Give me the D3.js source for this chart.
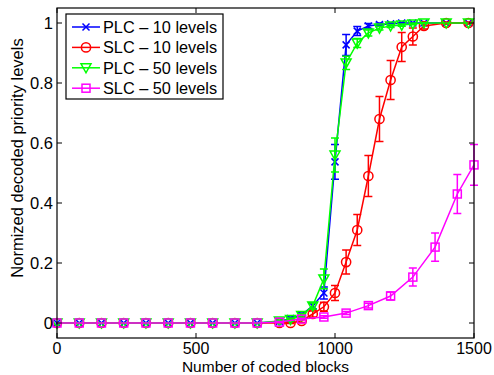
<!DOCTYPE html>
<html><head><meta charset="utf-8">
<script src="https://cdn.jsdelivr.net/npm/d3@7"></script>
<style>body{margin:0;background:#fff;} svg{display:block;font-family:"Liberation Sans",Arial,sans-serif;}</style>
</head><body>
<script>
// ---- data ----
const xMain = [0,80,160,240,320,400,480,560,640,720,800,840,880,920,960,1000,1040,1080,1120,1160,1200,1240,1280,1320,1400,1480];
const xSlc50 = [0,80,160,240,320,400,480,560,640,720,800,880,960,1040,1120,1200,1280,1360,1440,1500];
const plc10 = [0,0,0,0,0,0,0,0,0,0,0.005,0.015,0.027,0.057,0.1,0.537,0.927,0.973,0.99,0.995,0.997,1,1,1,1,1];
const plc10Err = [0,0,0,0,0,0,0,0,0,0,0.003,0.005,0.006,0.01,0.02,0.058,0.035,0.015,0.008,0.005,0.003,0.002,0.002,0,0,0];
const slc10 = [0,0,0,0,0,0,0,0,0,0,0,0,0.007,0.03,0.054,0.1,0.203,0.31,0.49,0.68,0.81,0.92,0.955,0.99,1,1];
const slc10Err = [0,0,0,0,0,0,0,0,0,0,0,0.002,0.005,0.01,0.015,0.025,0.04,0.052,0.068,0.075,0.065,0.048,0.028,0.01,0.003,0.003];
const plc50 = [0,0,0,0,0,0,0,0,0,0,0.007,0.012,0.025,0.057,0.147,0.56,0.867,0.933,0.967,0.983,0.99,0.993,0.997,1,1,1];
const plc50Err = [0,0,0,0,0,0,0,0,0,0,0.003,0.005,0.006,0.01,0.033,0.057,0.022,0.015,0.01,0.006,0.005,0.004,0.003,0.002,0,0];
const slc50 = [0,0,0,0,0,0,0,0,0,0,0.003,0.013,0.02,0.033,0.058,0.09,0.153,0.253,0.43,0.527];
const slc50Err = [0,0,0,0,0,0,0,0,0,0,0.002,0.003,0.004,0.005,0.008,0.013,0.03,0.047,0.065,0.068];
const xTicks = [0,500,1000,1500];
const yTicks = [0,0.2,0.4,0.6,0.8,1];
const yTickLabels = ["0","0.2","0.4","0.6","0.8","1"];
const seriesNames = ["PLC \u2013 10 levels","SLC \u2013 10 levels","PLC \u2013 50 levels","SLC \u2013 50 levels"];
const seriesColors = ["#0000ff","#ff0000","#00ff00","#ff00ff"];
const seriesMarkers = ["x","circle","triangle","square"];

const series = [
  {name:seriesNames[0], x:xMain, y:plc10, e:plc10Err, color:seriesColors[0], marker:seriesMarkers[0]},
  {name:seriesNames[1], x:xMain, y:slc10, e:slc10Err, color:seriesColors[1], marker:seriesMarkers[1]},
  {name:seriesNames[2], x:xMain, y:plc50, e:plc50Err, color:seriesColors[2], marker:seriesMarkers[2]},
  {name:seriesNames[3], x:xSlc50, y:slc50, e:slc50Err, color:seriesColors[3], marker:seriesMarkers[3]}
];

const W=494, H=375;
const L=57, R=474, T=8, B=338;
const svg = d3.select("body").append("svg").attr("width",W).attr("height",H);
const x = d3.scaleLinear().domain([0,1500]).range([L,R]);
const y = d3.scaleLinear().domain([-0.05,1.05]).range([B,T]);

function drawMarker(g, type, cx, cy, color){
  if(type==="circle"){
    g.append("circle").attr("cx",cx).attr("cy",cy).attr("r",4.6).attr("fill","none").attr("stroke",color).attr("stroke-width",1.5);
  } else if(type==="square"){
    g.append("rect").attr("x",cx-4).attr("y",cy-4).attr("width",8).attr("height",8).attr("fill","none").attr("stroke",color).attr("stroke-width",1.5);
  } else if(type==="triangle"){
    const s=5;
    g.append("path").attr("d",`M${cx-s},${cy-s*0.8}L${cx+s},${cy-s*0.8}L${cx},${cy+s}Z`).attr("fill","none").attr("stroke",color).attr("stroke-width",1.5);
  } else if(type==="x"){
    const s=3.5;
    g.append("path").attr("d",`M${cx-s},${cy-s}L${cx+s},${cy+s}M${cx-s},${cy+s}L${cx+s},${cy-s}`).attr("fill","none").attr("stroke",color).attr("stroke-width",1.5);
  }
}

const plot = svg.append("g");
series.forEach(s=>{
  const g = plot.append("g");
  const pts = s.x.map((xv,i)=>({x:xv,y:s.y[i],e:s.e[i]}));
  pts.forEach(p=>{
    if(p.e>0){
      const y1=y(p.y-p.e), y2=y(p.y+p.e), cx=x(p.x), c=4;
      g.append("path").attr("d",`M${cx},${y1}L${cx},${y2}M${cx-c},${y1}L${cx+c},${y1}M${cx-c},${y2}L${cx+c},${y2}`)
        .attr("stroke",s.color).attr("stroke-width",1.5).attr("fill","none");
    }
  });
  g.append("path").datum(pts).attr("d",d3.line().x(d=>x(d.x)).y(d=>y(d.y)))
    .attr("fill","none").attr("stroke",s.color).attr("stroke-width",1.5);
  pts.forEach(p=>drawMarker(g,s.marker,x(p.x),y(p.y),s.color));
});

// axes box
const ax = svg.append("g");
ax.append("rect").attr("x",L).attr("y",T).attr("width",R-L).attr("height",B-T).attr("fill","none").attr("stroke","#000").attr("stroke-width",1.2);
const tl=5;
xTicks.forEach(t=>{
  ax.append("line").attr("x1",x(t)).attr("x2",x(t)).attr("y1",B).attr("y2",B-tl).attr("stroke","#000");
  ax.append("line").attr("x1",x(t)).attr("x2",x(t)).attr("y1",T).attr("y2",T+tl).attr("stroke","#000");
  ax.append("text").attr("x",x(t)).attr("y",353.5).attr("text-anchor","middle").attr("font-size",16).text(t);
});
yTicks.forEach((t,i)=>{
  ax.append("line").attr("x1",L).attr("x2",L+tl).attr("y1",y(t)).attr("y2",y(t)).attr("stroke","#000");
  ax.append("line").attr("x1",R).attr("x2",R-tl).attr("y1",y(t)).attr("y2",y(t)).attr("stroke","#000");
  ax.append("text").attr("x",53).attr("y",y(t)+6).attr("text-anchor","end").attr("font-size",16.5).text(yTickLabels[i]);
});
svg.append("text").attr("x",(L+R)/2).attr("y",371.5).attr("text-anchor","middle").attr("font-size",15.5).text("Number of coded blocks");
svg.append("text").attr("transform",`translate(23,${158}) rotate(-90)`).attr("text-anchor","middle").attr("font-size",16.5).text("Normized decoded priority levels");

// legend
const lg = svg.append("g");
lg.append("rect").attr("x",66).attr("y",14).attr("width",157).attr("height",85).attr("fill","#fff").attr("stroke","#000").attr("stroke-width",1.2);
series.forEach((s,i)=>{
  const cy = 27 + i*20.4;
  lg.append("line").attr("x1",72).attr("x2",100).attr("y1",cy).attr("y2",cy).attr("stroke",s.color).attr("stroke-width",1.5);
  drawMarker(lg,s.marker,86,cy,s.color);
  lg.append("text").attr("x",103).attr("y",cy+6).attr("font-size",16.3).text(s.name);
});
</script>
</body></html>
